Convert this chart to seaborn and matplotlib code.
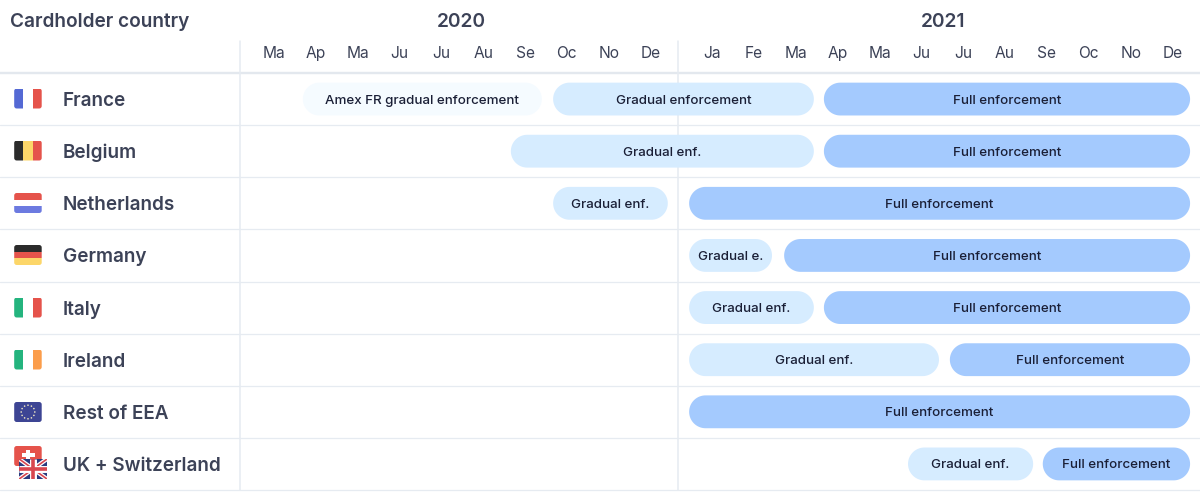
import numpy as np
import pandas as pd
import matplotlib
matplotlib.use("Agg")
import matplotlib.pyplot as plt
import seaborn as sns
from matplotlib.patches import FancyBboxPatch, Rectangle, Circle, Polygon
from matplotlib.transforms import blended_transform_factory

sns.set_theme(style="white")
plt.rcParams['font.family'] = ['Inter', 'DejaVu Sans']

INK = '#3c4257'
DARK = '#1a1f36'
GRID = '#e6ebf1'

countries = ['France', 'Belgium', 'Netherlands', 'Germany', 'Italy', 'Ireland',
             'Rest of EEA', 'UK + Switzerland']

# month columns, 0 = March 2020, small gap at the year change
month_labels = ['Ma', 'Ap', 'Ma', 'Ju', 'Ju', 'Au', 'Se', 'Oc', 'No', 'De',
                'Ja', 'Fe', 'Ma', 'Ap', 'Ma', 'Ju', 'Ju', 'Au', 'Se', 'Oc', 'No', 'De']
month_pos = [0, 1, 2, 3, 4, 5, 6, 7, 8, 9,
             10.47, 11.47, 12.47, 13.47, 14.47, 15.47, 16.47, 17.47, 18.47, 19.47, 20.47, 21.47]
years = ['2020', '2021']
year_pos = [4.47, 15.99]
year_divider = 9.65

bar_row = [0, 0, 0, 1, 1, 2, 2, 3, 3, 4, 4, 5, 5, 6, 7, 7]
bar_phase = ['amex', 'gradual', 'full', 'gradual', 'full', 'gradual', 'full', 'gradual', 'full',
             'gradual', 'full', 'gradual', 'full', 'full', 'gradual', 'full']
bar_label = ['Amex FR gradual enforcement', 'Gradual enforcement', 'Full enforcement',
             'Gradual enf.', 'Full enforcement', 'Gradual enf.', 'Full enforcement',
             'Gradual e.', 'Full enforcement', 'Gradual enf.', 'Full enforcement',
             'Gradual enf.', 'Full enforcement', 'Full enforcement', 'Gradual enf.', 'Full enforcement']
bar_start = [0.69, 6.67, 13.14, 5.66, 13.14, 6.67, 9.92, 9.92, 12.19, 9.92, 13.14, 9.92, 16.15, 9.92, 15.15, 18.37]
bar_end = [6.40, 12.90, 21.89, 12.90, 21.89, 9.41, 21.89, 11.90, 21.89, 12.90, 21.89, 15.89, 21.89, 21.89, 18.14, 21.89]

phase_colors = {'amex': '#f5fbff', 'gradual': '#d6ecff', 'full': '#a4cafe'}

bars = pd.DataFrame({'row': bar_row, 'phase': bar_phase, 'label': bar_label,
                     'start': bar_start, 'end': bar_end})
bars['width'] = bars['end'] - bars['start']

fig = plt.figure(figsize=(12, 5.01), dpi=100, facecolor='white')
ax = fig.add_axes([240 / 1200, (501 - 490) / 501, 960 / 1200, 417 / 501])

for _, b in bars.iterrows():
    sns.barplot(x=[b['width']], y=[b['row']], orient='h', native_scale=True, left=b['start'],
                width=0.63, color=phase_colors[b['phase']], saturation=1, ax=ax)


def pill(x, y, w, h, fc):
    # true half circles at both ends, one y unit is 52.1 px and one x unit 41.85 px
    ry = h / 2
    rx = ry * 52.1 / 41.85
    t = np.linspace(-np.pi / 2, np.pi / 2, 40)
    right = np.c_[x + w - rx + rx * np.cos(t), y + ry + ry * np.sin(t)]
    left = np.c_[x + rx - rx * np.cos(t), y + ry - ry * np.sin(t)]
    return Polygon(np.r_[right, left], closed=True, fc=fc, ec='none', zorder=3)


# swap the square bars for pills
for p in list(ax.patches):
    x, y, w, h = p.get_x(), p.get_y(), p.get_width(), p.get_height()
    fc = p.get_facecolor()
    p.remove()
    ax.add_patch(pill(x, y, w, h, fc))

for _, b in bars.iterrows():
    ax.text((b['start'] + b['end']) / 2, b['row'], b['label'], ha='center', va='center_baseline',
            fontsize=9.6, color=DARK, fontweight='medium', zorder=4)

ax.set_xlim(-0.812, 22.127)
ax.set_ylim(7.5, -0.5)
ax.set_xlabel('')
ax.set_ylabel('')
ax.xaxis.tick_top()
ax.set_xticks(month_pos, month_labels)
ax.tick_params(axis='x', length=0, pad=8.5, labelsize=11.2, labelcolor=INK)
ax.set_yticks(range(len(countries)), countries)
ax.tick_params(axis='y', length=0, pad=127.4, labelsize=13.6, labelcolor=INK)
for t in ax.get_yticklabels():
    t.set_ha('left')
    t.set_va('center_baseline')
    t.set_fontweight('semibold')
for s in ax.spines.values():
    s.set_visible(False)

# row rules and the two column rules, header part reaches above the axes
trans = blended_transform_factory(fig.transFigure, ax.transData)
ax.plot([0, 1], [-0.5, -0.5], transform=trans, color='#e3e8ee', lw=1.7, clip_on=False, zorder=1)
for r in range(1, len(countries) + 1):
    ax.plot([0, 1], [r - 0.5, r - 0.5], transform=trans, color=GRID, lw=0.9, clip_on=False, zorder=1)
ax.plot([-0.812, -0.812], [-1.11, 7.5], color=GRID, lw=1.1, clip_on=False, zorder=1)
ax.plot([year_divider, year_divider], [-1.11, 7.5], color=GRID, lw=1.1, clip_on=False, zorder=1)

year_trans = blended_transform_factory(ax.transData, fig.transFigure)
for name, pos in zip(years, year_pos):
    ax.text(pos, (501 - 20) / 501, name, transform=year_trans, ha='center', va='center_baseline',
            fontsize=13.8, fontweight='semibold', color=INK)
fig.text(10 / 1200, (501 - 20) / 501, 'Cardholder country', ha='left', va='center_baseline',
         fontsize=13.7, fontweight='semibold', color=INK)

# flags, on an overlay in pixel units
fx = fig.add_axes([0, 0, 1, 1], facecolor='none')
fx.set_xlim(0, 1200)
fx.set_ylim(501, 0)
fx.axis('off')
FW, FH = 27.5, 20


def flag_clip(x, y):
    box = FancyBboxPatch((x, y), FW, FH, boxstyle="round,pad=0,rounding_size=2.5",
                         fc='none', ec='none', zorder=5)
    fx.add_patch(box)
    return box


def striped(y, colors, vertical=True, x=14.2):
    clip = flag_clip(x, y)
    n = len(colors)
    for i, c in enumerate(colors):
        if vertical:
            r = Rectangle((x + i * FW / n, y), FW / n, FH, fc=c, ec='none', zorder=5)
        else:
            r = Rectangle((x, y + i * FH / n), FW, FH / n, fc=c, ec='none', zorder=5)
        fx.add_patch(r)
        r.set_clip_path(clip)


RED = '#e5534b'
GREEN = '#24b47e'
striped(88.5, ['#5469d4', '#ffffff', RED])
striped(140.5, ['#2b2b2b', '#fcd669', RED])
striped(193, [RED, '#ffffff', '#6c7ae0'], vertical=False)
striped(245, ['#2b2b2b', RED, '#fcd669'], vertical=False)
striped(297.5, [GREEN, '#ffffff', RED])
striped(349.5, [GREEN, '#ffffff', '#fb9d4b'])

# EU
fx.add_patch(FancyBboxPatch((14.2, 402), FW, FH, boxstyle="round,pad=0,rounding_size=2.5",
                            fc='#3d4594', ec='none', zorder=5))
for a in np.arange(12) * np.pi / 6:
    fx.add_patch(Circle((28 + 6.8 * np.cos(a), 412 + 6.8 * np.sin(a)), 0.8, fc='#f3e9c4', ec='none', zorder=6))

# Switzerland
fx.add_patch(FancyBboxPatch((14.2, 446), FW, FH, boxstyle="round,pad=0,rounding_size=2.5",
                            fc=RED, ec='none', zorder=5))
fx.add_patch(Rectangle((21.5, 453), 13, 4, fc='white', ec='none', zorder=6))
fx.add_patch(Rectangle((26, 450), 4, 10, fc='white', ec='none', zorder=6))

# UK
ux, uy, uw, uh = 19.2, 459, 27.8, 20
uk_clip = Rectangle((ux, uy), uw, uh, fc='#2b3a7e', ec='none', zorder=7)
fx.add_patch(uk_clip)
for (x0, y0, x1, y1, c, lw) in [(ux, uy, ux + uw, uy + uh, 'white', 3),
                                (ux, uy + uh, ux + uw, uy, 'white', 3),
                                (ux, uy, ux + uw, uy + uh, '#d8464f', 1.2),
                                (ux, uy + uh, ux + uw, uy, '#d8464f', 1.2),
                                (ux + uw / 2, uy, ux + uw / 2, uy + uh, 'white', 5),
                                (ux, uy + uh / 2, ux + uw, uy + uh / 2, 'white', 5),
                                (ux + uw / 2, uy, ux + uw / 2, uy + uh, '#d8464f', 2.6),
                                (ux, uy + uh / 2, ux + uw, uy + uh / 2, '#d8464f', 2.6)]:
    line, = fx.plot([x0, x1], [y0, y1], color=c, lw=lw, solid_capstyle='butt', zorder=8)
    line.set_clip_path(uk_clip)

fig.savefig('out.png', dpi=100, facecolor='white')
